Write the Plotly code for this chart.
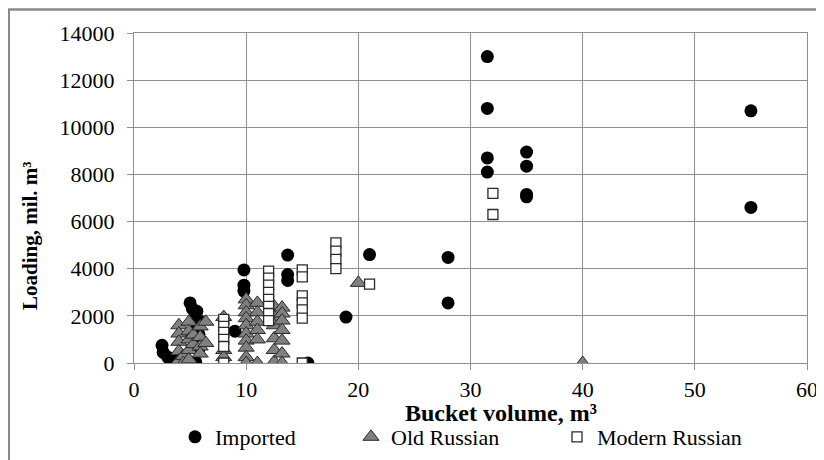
import plotly.graph_objects as go

# ---- data ----
imported_x = [2.5, 2.6, 3.0, 3.7, 5.0, 5.2, 5.6, 5.5, 5.8, 5.6, 5.8, 6.0, 5.8, 4.5, 5.5, 3.8,
              9.0, 9.8, 9.8, 9.8, 13.7, 13.7, 13.7, 15.5, 18.9, 21.0, 28.0, 28.0,
              31.5, 31.5, 31.5, 31.5, 35.0, 35.0, 35.0, 35.0, 55.0, 55.0]
imported_y = [750, 450, 250, 100, 2550, 2300, 2200, 2000, 1800, 1500, 1200, 900, 600, 100, 50, 50,
              1350, 3950, 3300, 3050, 4580, 3750, 3500, 0, 1950, 4600, 4480, 2550,
              13000, 10800, 8700, 8100, 8950, 8350, 7150, 7050, 10700, 6600]

old_x = [4.0, 4.0, 4.0, 4.0, 4.0, 4.4, 4.4,
         4.9, 4.9, 4.9, 4.9, 4.9, 5.3, 5.3,
         5.9, 5.9, 5.9, 5.9, 6.4, 6.4,
         8.0, 8.0, 8.0,
         10.0, 10.0, 10.0, 10.0, 10.0, 10.0, 10.0, 10.0, 10.0, 10.0,
         11.0, 11.0, 11.0, 11.0, 11.0, 11.0,
         12.5, 12.5, 12.5, 12.5, 12.5, 12.5,
         13.2, 13.2, 13.2, 13.2, 13.2, 13.2, 13.2,
         20.0, 40.0]
old_y = [1600, 1250, 900, 500, 100, 300, 0,
         1750, 1350, 1000, 550, 150, 1200, 800,
         1550, 1100, 700, 400, 1750, 850,
         1950, 550, 250,
         2700, 2450, 2150, 1900, 1600, 1250, 950, 650, 250, 0,
         2550, 2150, 1750, 1400, 1000, 0,
         2400, 1950, 1600, 1050, 550, 50,
         2350, 2100, 1800, 1400, 950, 400, 0,
         3400, 0]

modern_x = [8.0, 8.0, 8.0, 8.0, 8.0, 8.0,
            12.0, 12.0, 12.0, 12.0, 12.0, 12.0, 12.0, 12.0,
            15.0, 15.0, 15.0, 15.0, 15.0, 15.0, 15.0,
            18.0, 18.0, 18.0, 18.0,
            21.0, 32.0, 32.0]
modern_y = [1850, 1550, 1300, 1000, 700, 0,
            3900, 3600, 3300, 3000, 2700, 2400, 2100, 1800,
            3950, 3650, 2850, 2550, 2250, 1900, 0,
            5100, 4750, 4400, 4000,
            3350, 7200, 6300]

x_ticks = [0, 10, 20, 30, 40, 50, 60]
y_ticks = [0, 2000, 4000, 6000, 8000, 10000, 12000, 14000]

x_title = "Bucket volume, m³"
y_title = "Loading, mil. m³"

FONT = "Liberation Serif, Times New Roman, serif"
GRID = "#8f8f8f"

# page offset of the html body (8px) is compensated: figure is 816x452
FW, FH = 816, 452
PW, PH = 673, 330          # plot area size
PL, PT = 134, 33           # plot area left/top in page coordinates


def px(x):  # page x -> paper x
    return (x - PL) / PW


def py(y):  # page y -> paper y
    return (PT + PH - y) / PH


def cy(y):  # page y -> container y
    return 1 - (y - 8) / FH


fig = go.Figure()
fig.add_trace(go.Scatter(x=imported_x, y=imported_y, mode="markers", name="Imported",
                         marker=dict(symbol="circle", size=13, color="black",
                                     line=dict(color="black", width=0)),
                         showlegend=True, legend="legend"))
fig.add_trace(go.Scatter(x=old_x, y=old_y, mode="markers", name="Old Russian",
                         marker=dict(symbol="triangle-up", size=14, color="#808080",
                                     line=dict(color="#2a2a2a", width=1)),
                         showlegend=True, legend="legend2"))
fig.add_trace(go.Scatter(x=modern_x, y=modern_y, mode="markers", name="Modern Russian",
                         marker=dict(symbol="square", size=10, color="white",
                                     line=dict(color="#2a2a2a", width=1.3)),
                         showlegend=True, legend="legend3"))

axis_common = dict(
    showgrid=True, gridcolor=GRID, gridwidth=1.3,
    showline=True, linecolor=GRID, linewidth=1.3, mirror=True,
    ticks="outside", ticklen=6, tickcolor=GRID, tickwidth=1.3,
    zeroline=False, automargin=False,
    tickfont=dict(family=FONT, size=22, color="black"),
)

leg_font = dict(family=FONT, size=22, color="black")
leg_common = dict(orientation="h", xanchor="left", xref="paper",
                  yref="container", y=cy(437), yanchor="middle",
                  font=leg_font, bgcolor="rgba(0,0,0,0)")

fig.update_layout(
    width=FW, height=FH, autosize=False, showlegend=True,
    margin=dict(l=PL - 8, r=FW - (PL - 8) - PW, t=PT - 8, b=FH - (PT - 8) - PH, autoexpand=False),
    paper_bgcolor="white", plot_bgcolor="white",
    font=dict(family=FONT),
    xaxis=dict(range=[0, 60], tickvals=x_ticks, ticktext=[str(v) for v in x_ticks],
               **axis_common),
    yaxis=dict(range=[0, 14000], tickvals=y_ticks, ticktext=[str(v) for v in y_ticks],
               ticklabelstandoff=8, **axis_common),
    legend=dict(x=px(198 - 23), **leg_common),
    legend2=dict(x=px(374 - 23), **leg_common),
    legend3=dict(x=px(580 - 23), **leg_common),
    annotations=[
        dict(text=x_title, xref="paper", yref="paper", x=px(501), y=py(413),
             xanchor="center", yanchor="middle", showarrow=False,
             font=dict(family=FONT, size=24, color="black", weight="bold")),
        dict(text=y_title, xref="paper", yref="paper", x=px(30), y=py(236),
             xanchor="center", yanchor="middle", showarrow=False, textangle=-90,
             font=dict(family=FONT, size=21, color="black", weight="bold")),
    ],
    # outer frame: only its top and left edges fall inside the picture
    shapes=[dict(type="rect", xref="paper", yref="paper",
                 x0=px(8.8), x1=px(840), y0=py(480), y1=py(9.5),
                 line=dict(color="#8a8a8a", width=2.5), fillcolor="rgba(0,0,0,0)", layer="below")],
)

fig.write_html("out.html")
